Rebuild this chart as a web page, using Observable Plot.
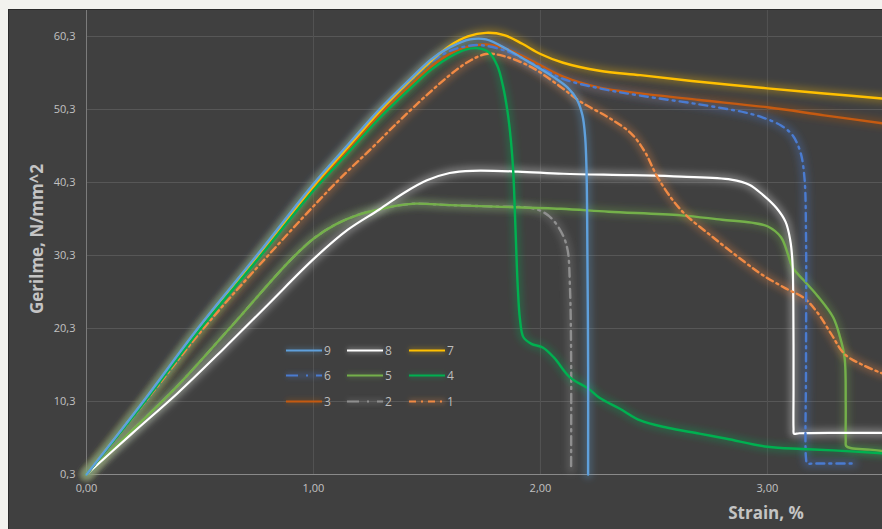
<!DOCTYPE html>
<html><head><meta charset="utf-8">
<script src="https://cdn.jsdelivr.net/npm/d3@7"></script>
<script src="https://cdn.jsdelivr.net/npm/@observablehq/plot@0.6"></script>
<style>
html,body{margin:0;padding:0;}
body{background:#f2f2ee;width:882px;height:529px;overflow:hidden;font-family:"Open Sans",sans-serif;position:relative;}
#panel{position:absolute;left:8px;top:9px;width:873px;height:519px;background:#404040;border-top:1px solid #2b2b2b;border-left:1px solid #2b2b2b;overflow:hidden;}
#chart{position:absolute;left:0;top:0;}
.ytitle{position:absolute;left:27px;top:229px;transform:translate(-50%,-50%) rotate(-90deg);font-weight:700;font-size:17px;color:#c4c4c4;white-space:nowrap;}
.xtitle{position:absolute;left:757px;top:492px;transform:translateX(-50%);font-weight:700;font-size:17px;line-height:22px;color:#c4c4c4;white-space:nowrap;}
#legend{position:absolute;left:0;top:0;}
</style>
</head><body>
<div id="panel"><div id="chart"></div><svg id="legend" width="873" height="519"></svg>
<div class="ytitle">Gerilme, N/mm^2</div>
<div class="xtitle">Strain, %</div>
</div>
<script>
// tick values
const xTicks = [0, 1, 2, 3];
const yTicks = [0.3, 10.3, 20.3, 30.3, 40.3, 50.3, 60.3];

// series names, colours, dashes
const seriesNames = ["9", "8", "7", "6", "5", "4", "3", "2", "1"];
const seriesColors = ["#5fa0dc", "#ffffff", "#ffc000", "#4a7bd0", "#74b04a", "#00b050", "#c55a11", "#8f8f8f", "#f08a45"];
const seriesDash = [null, null, null, "8,5,2,5", null, null, null, "9,5,2,5", "7,4,2,4"];

// data (strain %, stress N/mm^2)
const s9x = [0, 0.25, 0.49, 0.75, 1.0, 1.15, 1.29, 1.42, 1.52, 1.6, 1.69, 1.76, 1.85, 1.96, 2.06, 2.12, 2.16, 2.185, 2.197, 2.203, 2.207, 2.21, 2.21];
const s9y = [0.3, 10.3, 20.3, 30.3, 40.1, 45.4, 50.3, 54.3, 57.2, 58.8, 59.9, 59.9, 58.6, 56.6, 54.7, 53.3, 51.7, 49.5, 46.5, 42, 30, 15, 0.3];

const s8x = [0, 0.2, 0.4, 0.6, 0.8, 1.0, 1.15, 1.29, 1.4, 1.5, 1.6, 1.7, 1.9, 2.1, 2.4, 2.62, 2.84, 2.92, 2.98, 3.04, 3.08, 3.1, 3.11, 3.114, 3.115, 3.115, 3.117, 3.14, 3.3, 3.51];
const s8y = [0.3, 5.9, 11.4, 17.4, 23.6, 29.8, 33.8, 36.6, 38.9, 40.6, 41.6, 41.9, 41.8, 41.5, 41.3, 41.1, 40.7, 40.0, 38.6, 36.8, 34.9, 32.5, 29.6, 24, 12, 6.6, 5.9, 5.95, 6.0, 6.0];

const s7x = [0, 0.25, 0.49, 0.75, 1.0, 1.15, 1.29, 1.42, 1.52, 1.6, 1.68, 1.76, 1.84, 1.92, 2.0, 2.1, 2.26, 2.44, 2.7, 3.0, 3.25, 3.51];
const s7y = [0.3, 10.2, 20.1, 30.1, 39.8, 45.1, 50.0, 54.1, 57.0, 59.0, 60.3, 60.8, 60.5, 59.3, 57.9, 56.7, 55.6, 55.0, 54.1, 53.2, 52.5, 51.8];

const s6x = [0, 0.25, 0.49, 0.75, 1.0, 1.15, 1.29, 1.42, 1.52, 1.6, 1.68, 1.74, 1.85, 1.96, 2.1, 2.26, 2.44, 2.7, 2.9, 2.98, 3.06, 3.11, 3.145, 3.163, 3.17, 3.17, 3.17, 3.175, 3.2, 3.38];
const s6y = [0.3, 10.2, 20.2, 30.2, 40.0, 45.2, 50.1, 54.0, 56.8, 58.3, 59.0, 59.1, 58.3, 56.7, 54.5, 53.2, 52.2, 51.0, 49.9, 49.2, 48.1, 46.8, 44.5, 41, 33, 15, 2.5, 1.8, 1.8, 1.8];

const s5x = [0, 0.2, 0.4, 0.63, 0.89, 1.0, 1.1, 1.2, 1.29, 1.36, 1.45, 1.6, 1.8, 2.09, 2.3, 2.62, 2.8, 2.93, 3.0, 3.06, 3.09, 3.11, 3.16, 3.22, 3.29, 3.32, 3.34, 3.345, 3.345, 3.347, 3.37, 3.45, 3.51];
const s5y = [0.3, 6.3, 12.4, 20.3, 29.4, 32.6, 34.6, 35.9, 36.6, 37.1, 37.4, 37.2, 37.0, 36.7, 36.3, 35.8, 35.2, 34.8, 34.3, 32.8, 30.5, 28.7, 26.9, 24.8, 21.8, 19.1, 16.3, 10, 5, 4.2, 3.9, 3.7, 3.5];

const s4x = [0, 0.25, 0.49, 0.75, 1.0, 1.15, 1.29, 1.42, 1.52, 1.6, 1.67, 1.72, 1.77, 1.81, 1.835, 1.855, 1.87, 1.88, 1.89, 1.9, 1.91, 1.925, 1.96, 2.01, 2.06, 2.13, 2.21, 2.26, 2.35, 2.44, 2.56, 2.7, 2.82, 3.0, 3.15, 3.29, 3.51];
const s4y = [0.3, 10.0, 19.8, 29.6, 39.2, 44.3, 49.1, 53.0, 55.8, 57.5, 58.5, 58.7, 58.2, 56.3, 53.5, 50, 46, 41.9, 34, 26, 21.5, 19.1, 18.2, 17.7, 16.3, 13.6, 12.1, 10.8, 9.3, 7.7, 6.7, 5.9, 5.2, 4.1, 3.8, 3.6, 3.2];

const s3x = [0, 0.25, 0.49, 0.75, 1.0, 1.15, 1.29, 1.42, 1.52, 1.6, 1.68, 1.76, 1.85, 1.96, 2.1, 2.26, 2.44, 2.7, 3.0, 3.25, 3.51];
const s3y = [0.3, 10.1, 20.0, 29.9, 39.5, 44.7, 49.5, 53.4, 56.2, 57.9, 58.9, 59.2, 58.6, 57.0, 54.8, 53.3, 52.5, 51.6, 50.6, 49.5, 48.4];

const s2x = [0, 0.2, 0.4, 0.63, 0.89, 1.0, 1.1, 1.2, 1.29, 1.36, 1.45, 1.6, 1.8, 1.96, 2.02, 2.06, 2.1, 2.12, 2.13, 2.135, 2.135];
const s2y = [0.3, 6.3, 12.4, 20.3, 29.4, 32.6, 34.6, 35.9, 36.6, 37.1, 37.4, 37.2, 37.0, 36.8, 36.1, 35.0, 33, 31, 26, 17, 1.0];

const s1x = [0, 0.26, 0.515, 0.8, 1.1, 1.25, 1.38, 1.5, 1.6, 1.68, 1.76, 1.84, 1.96, 2.08, 2.18, 2.3, 2.4, 2.46, 2.52, 2.62, 2.76, 2.9, 2.98, 3.08, 3.16, 3.22, 3.28, 3.34, 3.42, 3.51];
const s1y = [0.3, 10.3, 20.3, 30.3, 40.3, 44.8, 48.8, 52.3, 55.0, 56.8, 57.9, 57.6, 56.1, 53.6, 51.3, 49.2, 47.0, 44.5, 40.8, 36.5, 32.8, 29.4, 27.6, 25.8, 24.5, 22.5, 19.6, 16.8, 15.3, 14.1];

const seriesX = {"9": s9x, "8": s8x, "7": s7x, "6": s6x, "5": s5x, "4": s4x, "3": s3x, "2": s2x, "1": s1x};
const seriesY = {"9": s9y, "8": s8y, "7": s7y, "6": s6y, "5": s5y, "4": s4y, "3": s3y, "2": s2y, "1": s1y};
const drawOrder = ["2", "5", "8", "1", "3", "6", "7", "4", "9"];

const fmt2 = d => d.toFixed(2).replace(".", ",");
const fmt1 = d => d.toFixed(1).replace(".", ",");

const marks = [
  Plot.ruleY(yTicks.slice(1), {stroke: "#585858", strokeWidth: 1}),
  Plot.ruleX(xTicks.slice(1), {stroke: "#535353", strokeWidth: 1}),
  Plot.ruleX([0], {stroke: "#7c7c7c", strokeWidth: 1}),
  Plot.ruleY([0.3], {stroke: "#8a8a8a", strokeWidth: 1})
];
for (const name of drawOrder) {
  const i = seriesNames.indexOf(name);
  const data = seriesX[name].map((x, k) => ({x, y: seriesY[name][k]}));
  marks.push(Plot.line(data, {x: "x", y: "y", stroke: seriesColors[i], strokeWidth: 9, strokeOpacity: 0.28, curve: "catmull-rom", ariaDescription: "glow"}));
}
for (const name of drawOrder) {
  const i = seriesNames.indexOf(name);
  const data = seriesX[name].map((x, k) => ({x, y: seriesY[name][k]}));
  const opts = {x: "x", y: "y", stroke: seriesColors[i], strokeWidth: name === "8" ? 2.2 : 2.4, curve: "catmull-rom"};
  if (seriesDash[i]) opts.strokeDasharray = seriesDash[i];
  marks.push(Plot.line(data, opts));
}

const svg = Plot.plot({
  width: 873, height: 519,
  marginLeft: 77, marginRight: 0, marginTop: 0, marginBottom: 55,
  style: {background: "transparent", color: "#c2c2c2", fontFamily: "Open Sans, sans-serif", fontSize: "11px", overflow: "visible"},
  x: {domain: [0, 3.507], ticks: xTicks, tickFormat: fmt2, label: null, tickSize: 0, tickPadding: 10},
  y: {domain: [0.3, 63.86], ticks: yTicks, tickFormat: fmt1, label: null, tickSize: 0, tickPadding: 11},
  marks
});
const s = d3.select(svg);
const f = s.insert("defs", ":first-child").append("filter").attr("id", "glow")
  .attr("filterUnits", "userSpaceOnUse").attr("x", -20).attr("y", -20).attr("width", 920).attr("height", 560);
f.append("feGaussianBlur").attr("stdDeviation", 3.2);
s.selectAll('[aria-description="glow"]').attr("filter", "url(#glow)");
document.getElementById("chart").appendChild(svg);

// legend (page coords minus panel offset 9,10)
const lg = d3.select("#legend");
const lf = lg.append("defs").append("filter").attr("id", "lglow").attr("filterUnits", "userSpaceOnUse")
  .attr("x", 0).attr("y", 0).attr("width", 873).attr("height", 519);
lf.append("feGaussianBlur").attr("stdDeviation", 2);
const colX = [277, 338, 400];
const rowY = [340.5, 365.5, 391.5];
seriesNames.forEach((name, i) => {
  const cx = colX[i % 3], cy = rowY[Math.floor(i / 3)];
  lg.append("line").attr("x1", cx).attr("x2", cx + 36).attr("y1", cy).attr("y2", cy)
    .attr("stroke", seriesColors[i]).attr("stroke-width", 6).attr("stroke-opacity", 0.22).attr("filter", "url(#lglow)");
  const l = lg.append("line").attr("x1", cx).attr("x2", cx + 36).attr("y1", cy).attr("y2", cy)
    .attr("stroke", seriesColors[i]).attr("stroke-width", 2.2);
  if (seriesDash[i]) l.attr("stroke-dasharray", seriesDash[i] === "7,4,2,4" ? "7,5,2,5" : "12,8,2,8");
  lg.append("text").attr("x", cx + 38).attr("y", cy).attr("dy", "0.36em")
    .attr("fill", "#bdbdbd").attr("font-size", 12).attr("font-family", "Open Sans, sans-serif").text(name);
});
</script>
</body></html>
